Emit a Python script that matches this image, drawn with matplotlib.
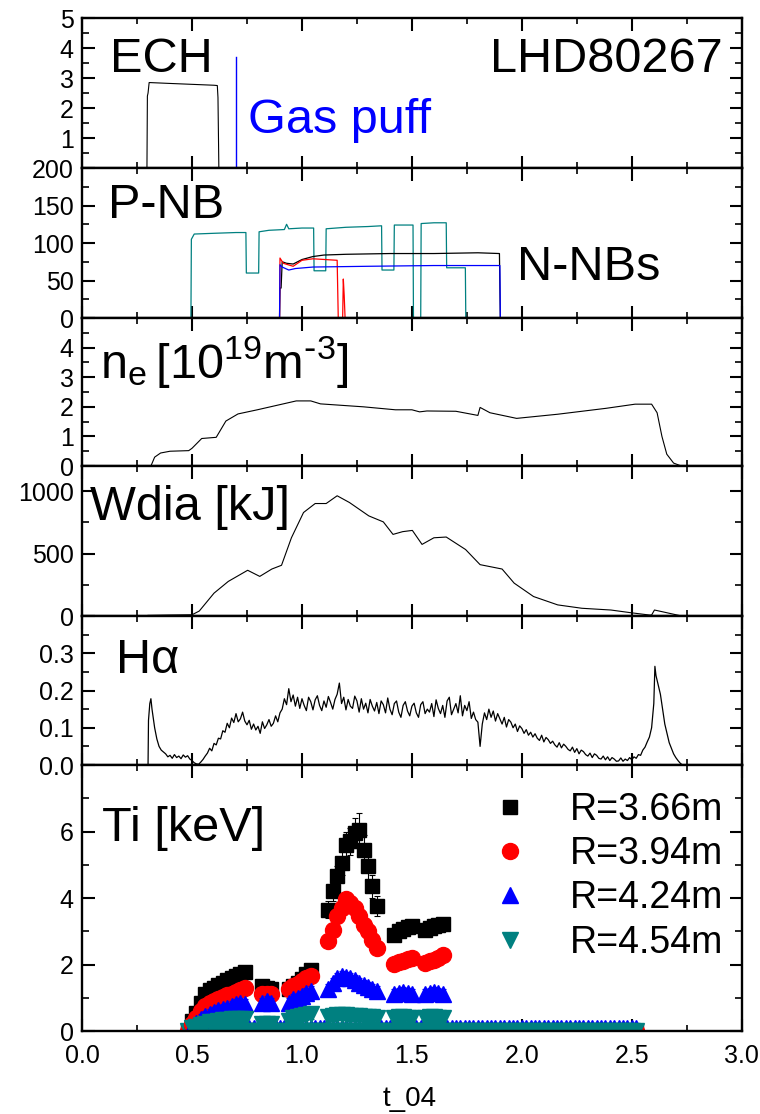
"""Discharge overview for LHD shot 80267: heating, density, stored energy, H-alpha, Ti."""

import matplotlib
matplotlib.use("Agg")
import matplotlib.pyplot as plt
import numpy as np
from matplotlib.lines import Line2D
from matplotlib.ticker import FixedLocator, MultipleLocator

plt.rcParams["font.family"] = ["Liberation Sans", "DejaVu Sans"]

TEAL = "#008080"

# --- heating waveforms ---
ech_t = [0.0, 0.295, 0.297, 0.300, 0.305, 0.40, 0.50, 0.60, 0.615, 0.618, 0.622, 3.0]
ech_p = [0.0, 0.0, 2.4, 2.5, 2.85, 2.82, 2.79, 2.76, 2.75, 2.35, 0.0, 0.0]
puff_t = 0.70
puff_top = 3.7

pnb_t = [0.0, 0.495, 0.497, 0.51, 0.60, 0.70, 0.745, 0.747, 0.803, 0.805, 0.85, 0.92,
         0.93, 0.94, 1.0, 1.053, 1.055, 1.108, 1.11, 1.2, 1.3, 1.362, 1.364, 1.418,
         1.42, 1.505, 1.507, 1.54, 1.542, 1.60, 1.656, 1.658, 1.743, 1.745, 3.0]
pnb_p = [0, 0, 105, 112, 113, 114, 114, 60, 60, 115, 117, 118,
         125, 119, 120, 120, 63, 63, 119, 121, 122, 123, 64, 64,
         124, 124, 0, 0, 126, 127, 127, 67, 67, 0, 0]

nnb_sum_t = [0.0, 0.898, 0.900, 0.905, 0.91, 0.93, 0.96, 1.0, 1.05, 1.1, 1.2, 1.4,
             1.6, 1.8, 1.898, 1.902, 3.0]
nnb_sum_p = [0, 0, 40, 40, 75, 73, 72, 78, 82, 84, 85, 86, 86, 87, 86, 0, 0]

nnb_a_t = [0.0, 0.898, 0.900, 0.91, 0.94, 0.97, 1.05, 1.3, 1.6, 1.9, 1.902, 3.0]
nnb_a_p = [0, 0, 71, 68, 64, 66, 68, 69, 70, 70, 0, 0]

nnb_b_t = [0.0, 0.898, 0.900, 0.915, 0.96, 1.0, 1.05, 1.16, 1.165, 1.185, 1.188,
           1.192, 1.196, 1.2, 3.0]
nnb_b_p = [0, 0, 80, 73, 69, 77, 79, 77, 0, 0, 52, 30, 0, 0, 0]

# --- line-averaged density [1e19 m^-3] ---
ne_t = [0.313, 0.33, 0.357, 0.40, 0.485, 0.50, 0.544, 0.61, 0.654, 0.709, 0.797, 0.974,
        1.04, 1.084, 1.28, 1.425, 1.50, 1.535, 1.568, 1.70, 1.80, 1.81, 1.855, 1.976,
        2.163, 2.383, 2.515, 2.59, 2.615, 2.637, 2.659, 2.69, 2.725]
ne_v = [0.0, 0.3, 0.44, 0.5, 0.52, 0.6, 0.93, 0.97, 1.52, 1.76, 1.9, 2.2,
        2.2, 2.1, 2.0, 1.9, 1.9, 1.83, 1.86, 1.85, 1.71, 1.98, 1.8, 1.61,
        1.75, 1.95, 2.09, 2.09, 1.8, 1.0, 0.4, 0.1, 0.0]

# --- diamagnetic stored energy [kJ] ---
wdia_t = [0.30, 0.40, 0.50, 0.533, 0.60, 0.665, 0.753, 0.808, 0.863, 0.907, 0.952,
          1.007, 1.06, 1.11, 1.16, 1.216, 1.304, 1.37, 1.414, 1.458, 1.502, 1.546,
          1.60, 1.656, 1.744, 1.81, 1.91, 1.965, 2.053, 2.163, 2.273, 2.405, 2.493,
          2.58, 2.59, 2.603, 2.637, 2.714]
wdia_v = [5, 8, 10, 40, 183, 277, 366, 317, 376, 406, 626,
          828, 900, 900, 962, 908, 801, 753, 653, 675, 685, 573,
          626, 632, 532, 411, 376, 263, 156, 89, 62, 48, 27,
          8, 8, 48, 35, 5]

# --- H-alpha emission (a.u.) ---
ha_t_start = [0.300, 0.302, 0.308, 0.313, 0.318, 0.325, 0.33, 0.34, 0.35, 0.36, 0.37]
ha_v_start = [0.0, 0.12, 0.165, 0.178, 0.15, 0.12, 0.10, 0.07, 0.05, 0.04, 0.035]
ha_t_mid = np.round(np.arange(0.38, 2.575, 0.01), 2)
ha_v_mid = [
    0.030, 0.022, 0.026, 0.018, 0.028, 0.020, 0.024, 0.017, 0.027, 0.021,
    0.025, 0.016, 0.012, 0.006, 0.003, 0.002, 0.008, 0.015, 0.024, 0.032,
    0.045, 0.038, 0.058, 0.054, 0.072, 0.070, 0.092, 0.088, 0.112, 0.100,
    0.126, 0.114, 0.138, 0.116, 0.124, 0.142, 0.118, 0.108, 0.120, 0.096,
    0.110, 0.094, 0.104, 0.085, 0.116, 0.098, 0.108, 0.122, 0.104, 0.112,
    0.132, 0.116, 0.140, 0.150, 0.178, 0.162, 0.205, 0.170, 0.188, 0.158,
    0.182, 0.152, 0.178, 0.160, 0.146, 0.182, 0.170, 0.148, 0.175, 0.186,
    0.160, 0.146, 0.172, 0.155, 0.184, 0.168, 0.150, 0.176, 0.190, 0.220,
    0.165, 0.182, 0.148, 0.176, 0.158, 0.152, 0.185, 0.172, 0.142, 0.178,
    0.150, 0.166, 0.140, 0.176, 0.158, 0.145, 0.168, 0.138, 0.172, 0.162,
    0.140, 0.180, 0.150, 0.135, 0.165, 0.172, 0.142, 0.128, 0.160, 0.170,
    0.145, 0.132, 0.158, 0.166, 0.140, 0.128, 0.162, 0.170, 0.138, 0.150,
    0.142, 0.165, 0.130, 0.175, 0.152, 0.138, 0.160, 0.128, 0.172, 0.182,
    0.135, 0.150, 0.165, 0.140, 0.186, 0.132, 0.160, 0.146, 0.170, 0.125,
    0.142, 0.122, 0.115, 0.050, 0.110, 0.140, 0.122, 0.150, 0.128, 0.145,
    0.118, 0.138, 0.124, 0.110, 0.128, 0.102, 0.122, 0.115, 0.100, 0.110,
    0.090, 0.105, 0.098, 0.085, 0.095, 0.080, 0.088, 0.075, 0.084, 0.072,
    0.066, 0.080, 0.062, 0.074, 0.068, 0.058, 0.064, 0.054, 0.048, 0.060,
    0.046, 0.056, 0.050, 0.042, 0.038, 0.048, 0.034, 0.044, 0.030, 0.040,
    0.036, 0.028, 0.024, 0.032, 0.020, 0.030, 0.026, 0.018, 0.016, 0.024,
    0.014, 0.022, 0.012, 0.020, 0.016, 0.010, 0.011, 0.019, 0.010, 0.016,
    0.012, 0.020, 0.014, 0.022, 0.018, 0.028, 0.026, 0.040, 0.048, 0.062,
]
ha_t_end = [2.58, 2.59, 2.60, 2.605, 2.61, 2.62, 2.63, 2.64, 2.65, 2.66, 2.67, 2.68,
            2.69, 2.70, 2.71, 2.72, 2.73]
ha_v_end = [0.075, 0.10, 0.165, 0.265, 0.24, 0.215, 0.19, 0.15, 0.11, 0.085, 0.06,
            0.045, 0.03, 0.02, 0.012, 0.005, 0.0]

# --- ion temperature from CXRS [keV] ---
ti_t = [0.50, 0.52, 0.54, 0.56, 0.58, 0.60, 0.62, 0.64, 0.66, 0.68, 0.70, 0.72, 0.74,
        0.82, 0.84, 0.86,
        0.94, 0.96, 0.98, 1.00, 1.02, 1.04,
        1.12, 1.14, 1.16, 1.18, 1.20, 1.22, 1.24, 1.26, 1.28, 1.30, 1.32, 1.34,
        1.42, 1.44, 1.46, 1.48, 1.50,
        1.56, 1.58, 1.60, 1.62, 1.64]
ti_366 = [0.3, 0.55, 0.85, 1.1, 1.22, 1.3, 1.38, 1.45, 1.52, 1.58, 1.65, 1.7, 1.76,
          1.35, 1.3, 1.25,
          1.25, 1.35, 1.45, 1.55, 1.7, 1.82,
          3.65, 4.2, 4.65, 5.05, 5.6, 5.7, 5.95, 6.05, 5.45, 4.95, 4.35, 3.75,
          2.9, 3.0, 3.08, 3.12, 3.15,
          3.05, 3.1, 3.15, 3.18, 3.22]
ti_394 = [0.2, 0.4, 0.6, 0.75, 0.85, 0.9, 0.97, 1.02, 1.07, 1.12, 1.17, 1.23, 1.3,
          1.12, 1.1, 1.12,
          1.25, 1.35, 1.42, 1.5, 1.58, 1.65,
          2.7, 3.05, 3.45, 3.7, 3.98, 3.85, 3.7, 3.45, 3.2, 3.0, 2.75, 2.5,
          2.02, 2.08, 2.12, 2.16, 2.2,
          2.05, 2.1, 2.15, 2.2, 2.28]
ti_424 = [0.12, 0.25, 0.35, 0.45, 0.52, 0.58, 0.62, 0.66, 0.7, 0.75, 0.8, 0.85, 0.82,
          0.85, 0.9, 0.85,
          0.85, 0.95, 1.0, 1.05, 1.15, 1.2,
          1.25, 1.45, 1.6, 1.65, 1.62, 1.58, 1.52, 1.45, 1.38, 1.32, 1.25, 1.2,
          1.1, 1.15, 1.18, 1.15, 1.12,
          1.1, 1.15, 1.18, 1.15, 1.12]
ti_454 = [0.08, 0.12, 0.18, 0.22, 0.26, 0.28, 0.3, 0.32, 0.34, 0.35, 0.36, 0.37, 0.36,
          0.2, 0.22, 0.2,
          0.3, 0.38, 0.42, 0.45, 0.48, 0.5,
          0.42, 0.46, 0.48, 0.48, 0.47, 0.46, 0.45, 0.44, 0.43, 0.42, 0.41, 0.4,
          0.4, 0.42, 0.42, 0.4, 0.38,
          0.4, 0.42, 0.42, 0.4, 0.38]
ti_366_err = [0.1, 0.1, 0.12, 0.12, 0.12, 0.12, 0.12, 0.12, 0.12, 0.12, 0.12, 0.12, 0.12,
              0.15, 0.15, 0.15,
              0.15, 0.15, 0.15, 0.15, 0.15, 0.15,
              0.25, 0.3, 0.3, 0.35, 0.4, 0.4, 0.45, 0.5, 0.45, 0.4, 0.35, 0.3,
              0.15, 0.15, 0.15, 0.15, 0.15,
              0.15, 0.15, 0.15, 0.15, 0.15]
ti_other_err = 0.15
# baseline samples where no beam signal is available
ti_base_t = np.round(np.arange(0.48, 2.53, 0.02), 2)
ti_base = {"366": 0.0, "394": 0.0, "424": 0.1, "454": 0.0}

ti_series = [
    ("R=3.66m", ti_366, "black", "s", 9.5, ti_base["366"]),
    ("R=3.94m", ti_394, "red", "o", 11.5, ti_base["394"]),
    ("R=4.24m", ti_424, "blue", "^", 12, ti_base["424"]),
    ("R=4.54m", ti_454, TEAL, "v", 12, ti_base["454"]),
]

fig = plt.figure(figsize=(7.6, 11.14), dpi=100)
gs = fig.add_gridspec(6, 1, height_ratios=[150, 150, 148, 150, 149, 266], hspace=0,
                      left=0.108, right=0.976, top=0.9838, bottom=0.0745)
axes = [fig.add_subplot(gs[i]) for i in range(6)]
for ax in axes[1:]:
    ax.sharex(axes[0])

LABEL_FS = 35
TICK_FS = 18

for ax in axes:
    ax.set_xlim(0, 3.0)
    ax.xaxis.set_major_locator(MultipleLocator(0.5))
    for sp in ax.spines.values():
        sp.set_linewidth(1.7)
    ax.tick_params(which="both", direction="in", top=True, right=True, labelsize=TICK_FS)
    ax.tick_params(which="major", length=9, width=1.5, pad=6)
    ax.tick_params(which="minor", length=5, width=1.2)
    ax.tick_params(axis="x", which="minor", length=4)
    if ax is not axes[-1]:
        ax.tick_params(axis="x", labelbottom=False)


def set_yticks(ax, values, labels, minor_step, top):
    ax.set_ylim(0, top)
    ax.yaxis.set_major_locator(FixedLocator(values))
    ax.set_yticklabels(labels)
    ax.yaxis.set_minor_locator(MultipleLocator(minor_step))


# ECH + gas puff
ax = axes[0]
ax.plot(ech_t, ech_p, color="black", lw=0.8)
ax.plot([puff_t, puff_t], [0, puff_top], color="blue", lw=1.0)
set_yticks(ax, [0, 1, 2, 3, 4, 5], ["", "1", "2", "3", "4", "5"], 0.5, 5)
ax.text(0.042, 0.64, "ECH", transform=ax.transAxes, fontsize=LABEL_FS, va="baseline")
ax.text(0.971, 0.64, "LHD80267", transform=ax.transAxes, fontsize=LABEL_FS,
        va="baseline", ha="right")
ax.text(0.2515, 0.233, "Gas puff", transform=ax.transAxes, fontsize=LABEL_FS,
        va="baseline", color="blue")

# NBI powers
ax = axes[1]
ax.plot(pnb_t, pnb_p, color=TEAL, lw=0.9)
ax.plot(nnb_sum_t, nnb_sum_p, color="black", lw=0.9)
ax.plot(nnb_b_t, nnb_b_p, color="red", lw=0.9)
ax.plot(nnb_a_t, nnb_a_p, color="blue", lw=0.9)
set_yticks(ax, [0, 50, 100, 150, 200], ["0", "50", "100", "150", "200"], 25, 200)
ax.text(0.04, 0.667, "P-NB", transform=ax.transAxes, fontsize=LABEL_FS, va="baseline")
ax.text(0.659, 0.253, "N-NBs", transform=ax.transAxes, fontsize=LABEL_FS, va="baseline")

# density
ax = axes[2]
ax.plot(ne_t, ne_v, color="black", lw=0.8)
set_yticks(ax, [0, 1, 2, 3, 4, 5], ["0", "1", "2", "3", "4", ""], 0.5, 5)
ax.text(0.027, 0.595, r"$\mathregular{n_e\,[10^{19}m^{\text{-}3}]}$",
        transform=ax.transAxes, fontsize=LABEL_FS, va="baseline")

# stored energy
ax = axes[3]
ax.plot(wdia_t, wdia_v, color="black", lw=0.8)
set_yticks(ax, [0, 500, 1000], ["0", "500", "1000"], 250, 1200)
ax.text(0.012, 0.64, "Wdia [kJ]", transform=ax.transAxes, fontsize=LABEL_FS, va="baseline")

# H-alpha
ax = axes[4]
ha_t = list(ha_t_start) + list(ha_t_mid) + list(ha_t_end)
ha_v = list(ha_v_start) + list(ha_v_mid) + list(ha_v_end)
ax.plot(ha_t, ha_v, color="black", lw=0.9)
set_yticks(ax, [0, 0.1, 0.2, 0.3, 0.4], ["0.0", "0.1", "0.2", "0.3", ""], 0.05, 0.4)
ax.xaxis.set_minor_locator(MultipleLocator(0.25))
ax.text(0.051, 0.617, "H\u03b1", transform=ax.transAxes, fontsize=LABEL_FS, va="baseline")

# ion temperature
ax = axes[5]
for label, vals, color, marker, ms, base in ti_series:
    ax.plot(ti_base_t, np.full(len(ti_base_t), base), ls="none", marker=marker, ms=ms,
            color=color, mec=color)
for label, vals, color, marker, ms, base in ti_series:
    err = ti_366_err if vals is ti_366 else ti_other_err
    ax.errorbar(ti_t, vals, yerr=err, fmt="none", ecolor=color, elinewidth=0.8,
                capsize=2.5, capthick=0.8)
    ax.plot(ti_t, vals, ls="none", marker=marker, ms=ms, color=color, mec=color)
set_yticks(ax, [0, 2, 4, 6, 8], ["0", "2", "4", "6", ""], 1, 8)
ax.xaxis.set_minor_locator(MultipleLocator(0.25))
ax.set_xticks([0, 0.5, 1.0, 1.5, 2.0, 2.5, 3.0])
ax.set_xticklabels(["0.0", "0.5", "1.0", "1.5", "2.0", "2.5", "3.0"])
ax.tick_params(axis="x", which="major", pad=9)
ax.text(0.03, 0.714, "Ti [keV]", transform=ax.transAxes, fontsize=LABEL_FS, va="baseline")

handles = [Line2D([], [], ls="none", marker=m, ms=ms, color=c, mec=c, label=lab)
           for lab, _, c, m, ms, _ in ti_series]
ax.legend(handles=handles, loc="upper right", bbox_to_anchor=(0.995, 0.955),
          frameon=False, fontsize=27, handlelength=1.0, handletextpad=1.1,
          labelspacing=0.22, borderaxespad=0.0)

fig.text(410 / 760, 1 - 1106 / 1114, "t_04", fontsize=20, ha="center", va="baseline")

fig.savefig("out.png", dpi=100)
